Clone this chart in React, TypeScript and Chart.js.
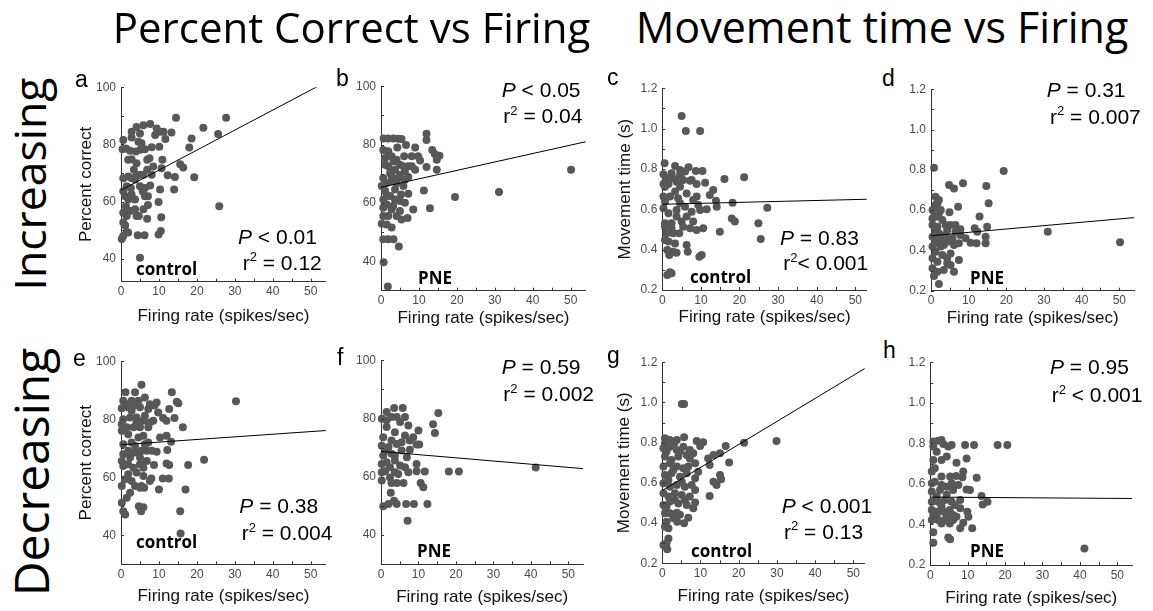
import React, { useEffect, useRef } from 'react';
import { Chart, registerables } from 'chart.js';
Chart.register(...registerables);

// ---------- DATA ----------
// a: Increasing, control, percent correct
const aX = [14.5,27.7,21.7,25.6,25.9,5.0,18.6,18.0,13.3,15.6,16.4,19.3,14.2,14.0,12.3,10.7,10.9,10.1,11.7,10.3,9.4,11.2,9.0,8.1,8.5,10.3,9.9,10.6,10.5,9.9,6.9,6.2,4.4,7.1,7.1,7.7,5.9,5.7,6.9,7.5,6.3,5.1,4.6,5.0,4.1,5.9,7.7,2.8,0.6,1.3,0.4,2.4,1.9,2.8,3.9,4.1,3.4,0.6,1.9,2.8,3.7,1.5,0.6,1.1,1.9,2.8,3.7,1.3,2.4,3.7,0.6,1.5,4.1,0.6,1.1,1.5,0.6,0.2,1.9,5.0,5.0,6.3,6.3,5.9,4.7,2.8,5.4,4.0,2.6,6.9,8.1];
const aY = [89.3,89.3,85.8,83.6,58.4,40.4,82.1,78.9,84.2,73.1,71.9,68.5,68.6,64.2,69.2,71.7,74.6,79.2,81.9,84.4,85.6,84.4,83.3,79.0,72.3,64.2,59.9,54.5,49.7,48.5,54.0,48.2,48.2,58.8,61.9,65.6,69.4,63.6,74.6,75.2,78.3,78.1,80.9,83.8,86.1,86.7,87.1,82.4,81.5,78.6,78.3,77.8,74.6,74.8,77.5,73.4,71.1,68.2,68.8,68.2,67.7,65.4,63.6,61.9,60.7,62.5,60.7,58.4,56.7,57.3,56.1,55.0,55.0,52.7,51.7,49.4,48.0,46.9,49.2,69.4,65.4,64.8,61.9,57.3,55.0,84.4,80.4,68.8,64.8,71.1,69.4];
const aLineX = [0, 54];
const aLineY = [64.0, 101.8];

// b: Increasing, PNE, percent correct
const bX = [12.0,12.0,0.7,1.9,3.3,4.6,5.4,4.3,0.6,1.9,1.1,2.8,4.1,5.0,6.1,8.1,9.0,10.3,12.0,13.5,14.2,15.4,14.7,14.7,7.2,6.3,5.0,3.7,2.4,0.6,1.5,0.2,2.8,4.1,5.9,7.2,5.3,7.2,11.3,19.5,31.1,50.1,8.5,7.0,5.0,4.1,2.8,1.5,0.6,2.4,12.9,0.2,1.5,2.8,0.6,1.9,3.3,4.7,0.7,1.8,3.7,1.1,3.3,1.9,6.6,8.1,5.0,3.7,0.6,1.1,2.8,4.6,6.3,1.5,3.2,6.3,0.6,1.9,5.4,5.9,9.0,9.8];
const bY = [83.7,81.6,82.1,82.1,82.1,82.0,81.9,79.0,78.2,77.7,75.4,76.0,74.8,73.1,76.0,76.0,79.0,74.6,72.3,78.2,76.8,76.2,74.8,71.4,72.6,70.9,69.7,71.4,70.3,68.6,66.9,65.8,67.5,66.9,65.8,68.9,62.9,63.2,64.3,62.1,63.8,71.4,57.8,54.9,57.3,55.6,57.8,59.5,61.2,62.4,58.2,52.9,52.7,51.6,47.6,47.6,47.6,45.1,39.7,31.4,64.6,64.1,74.2,72.6,79.9,72.6,60.7,61.2,58.4,73.1,69.2,68.6,68.0,62.4,59.0,60.1,55.6,55.6,54.4,72.6,71.4,76.0];
const bLineX = [0, 54];
const bLineY = [65.4, 81.0];

// c: Increasing, control, movement time
const cX = [5.0,6.1,9.8,0.6,3.3,4.6,6.8,8.7,10.4,0.3,2.4,0.3,1.6,3.7,5.4,7.2,8.9,11.1,16.1,21.2,13.2,12.3,13.9,14.1,18.2,27.2,11.5,9.3,7.6,5.9,4.1,2.0,0.7,0.3,0.7,0.7,2.4,2.4,5.0,6.3,8.0,8.9,10.6,4.4,0.7,1.6,3.3,6.3,1.3,2.8,3.7,1.8,6.6,9.6,10.2,14.9,18.0,18.8,24.9,25.5,1.3,2.4,2.0,8.9,6.3,4.6,3.3,8.0,9.8,0.3,0.7,5.4,7.2,3.7,0.9,2.8,4.6,5.9,1.6,3.7,4.6,2.8,1.1,7.6];
const cY = [1.063,0.988,0.988,0.828,0.815,0.795,0.808,0.790,0.790,0.774,0.779,0.726,0.726,0.737,0.745,0.742,0.726,0.732,0.750,0.759,0.696,0.671,0.643,0.613,0.633,0.608,0.600,0.621,0.588,0.613,0.655,0.663,0.638,0.605,0.531,0.514,0.531,0.506,0.539,0.564,0.539,0.498,0.506,0.481,0.448,0.440,0.431,0.423,0.398,0.390,0.385,0.374,0.390,0.365,0.374,0.489,0.555,0.539,0.531,0.453,0.274,0.283,0.288,0.663,0.679,0.712,0.688,0.646,0.597,0.663,0.712,0.514,0.506,0.564,0.754,0.754,0.770,0.787,0.580,0.597,0.630,0.481,0.481,0.745];
const cLineX = [0, 53];
const cLineY = [0.625, 0.650];

// d: Increasing, PNE, movement time
const dX = [0.8,4.8,6.1,8.5,14.7,19.3,15.3,7.2,12.9,4.9,31.0,50.2,7.4,2.1,6.1,1.2,1.7,0.8,2.6,0.4,1.7,3.0,0.4,1.7,3.9,5.2,6.5,0.4,2.1,3.9,6.5,7.8,9.2,10.5,11.6,12.3,14.5,14.9,12.1,14.5,7.4,6.1,1.7,3.4,1.2,3.0,5.2,0.4,1.7,4.3,0.4,1.7,3.4,0.8,5.2,5.7,4.3,3.0,1.2,7.8,1.2,2.6,0.4,4.3,2.1,1.2,2.1,4.3,0.4];
const dY = [0.811,0.725,0.708,0.733,0.720,0.794,0.634,0.617,0.568,0.589,0.493,0.440,0.352,0.233,0.294,0.667,0.634,0.592,0.601,0.559,0.568,0.551,0.526,0.518,0.526,0.526,0.526,0.468,0.485,0.477,0.493,0.477,0.460,0.438,0.510,0.493,0.468,0.518,0.435,0.435,0.435,0.427,0.435,0.427,0.394,0.377,0.385,0.361,0.344,0.336,0.311,0.294,0.303,0.273,0.327,0.460,0.443,0.452,0.452,0.505,0.493,0.419,0.419,0.361,0.584,0.625,0.650,0.501,0.601];
const dLineX = [0, 54];
const dLineY = [0.473, 0.563];

// e: Decreasing, control, percent correct
const eX = [5.4,1.2,3.7,13.4,14.7,15.1,30.3,12.7,14.1,11.1,16.3,12.0,13.2,12.2,21.9,17.7,12.0,12.7,8.7,11.0,12.6,8.0,10.0,17.0,15.6,15.7,4.7,5.3,5.9,0.6,1.1,0.2,1.5,2.4,3.7,5.4,6.1,0.2,1.1,1.9,0.6,1.9,3.3,5.0,5.9,6.8,0.6,1.9,3.7,5.4,6.8,8.1,9.4,0.6,2.8,4.6,7.2,0.2,1.5,3.3,5.0,7.2,8.5,7.6,0.6,2.4,4.1,6.3,0.2,1.9,3.3,5.0,7.2,8.8,9.4,2.8,4.6,0.6,1.5,2.8,5.9,4.1,1.9,5.9,3.7,6.3,2.4,5.0,0.2,4.1,5.9,2.8,7.6,5.0,10.3,9.8,12.0,0.2,7.6,6.3];
const eY = [91.9,89.3,89.3,89.3,86.0,85.5,86.2,83.5,80.4,80.4,77.2,74.3,72.2,69.4,66.0,64.2,64.7,64.2,64.2,59.6,59.6,59.6,55.8,55.8,48.3,40.6,50.0,48.3,49.7,48.3,47.2,51.2,52.9,54.7,57.0,57.0,56.4,57.0,59.3,61.0,63.9,64.5,63.3,64.5,63.3,65.6,67.9,69.1,68.5,69.1,69.1,69.1,68.8,71.4,72.0,73.7,72.0,76.0,77.2,77.2,77.2,77.2,79.5,78.9,80.0,80.6,80.6,81.2,83.8,84.1,84.7,84.1,83.5,84.7,85.8,86.4,86.4,86.4,85.2,82.9,79.5,78.9,74.8,74.3,70.8,71.4,66.8,66.8,65.6,61.6,60.4,58.7,58.7,56.4,73.7,82.3,79.5,78.3,85.2,87.5];
const eLineX = [0, 54];
const eLineY = [71.2, 76.1];

// f: Decreasing, PNE, percent correct
const fX = [3.5,5.8,15.3,1.5,0.2,2.8,6.4,13.9,14.4,10.0,7.3,5.1,1.5,3.7,6.4,8.6,9.5,10.2,7.7,0.6,0.2,2.0,4.2,5.5,2.8,0.6,0.2,1.5,3.7,5.1,6.4,9.5,9.5,11.7,18.1,20.8,41.3,0.2,2.4,2.8,4.2,6.0,10.6,11.3,2.6,3.5,0.6,2.0,4.2,6.7,8.8,12.4,7.1,1.1,3.7,1.5,4.2,2.8,5.5,1.1,3.7,6.9,2.4,4.6,7.3,0.2,7.7];
const fY = [83.6,83.6,81.9,82.2,79.9,80.5,80.5,78.0,75.0,75.9,77.6,78.8,77.1,75.3,74.2,73.6,71.1,71.1,69.3,73.6,70.7,70.2,71.3,69.0,67.9,67.3,64.4,65.0,65.6,63.9,63.3,64.4,61.9,61.8,61.8,61.8,63.2,58.7,59.8,57.9,57.9,57.9,57.9,56.4,54.5,51.8,49.9,50.7,50.7,50.7,50.7,50.7,44.9,61.9,61.6,79.4,80.5,72.5,71.9,69.0,67.3,66.7,63.3,61.0,61.6,61.6,72.5];
const fLineX = [0, 54];
const fLineY = [68.7, 62.8];

// g: Decreasing, control, movement time
const gX = [5.1,5.7,29.9,21.4,16.6,17.5,9.0,10.7,9.9,5.7,0.7,2.0,3.8,13.4,15.1,12.0,12.4,15.1,15.4,14.2,13.4,12.4,8.6,8.6,8.6,6.8,5.7,3.9,1.1,0.7,1.6,1.1,0.3,1.3,0.7,2.0,3.8,0.3,2.0,4.2,6.4,0.3,1.6,3.3,5.1,7.2,0.3,2.0,3.8,5.9,7.7,0.7,2.4,4.6,6.4,0.3,2.0,3.8,5.5,0.7,2.4,4.2,6.4,8.1,0.3,2.0,3.8,5.5,7.2,0.7,3.1,1.1,4.6,2.9,6.8,1.6,5.1,3.3,5.9,1.1,2.9,4.6,8.1,9.4,8.6,7.2,1.6];
const gY = [0.993,0.993,0.809,0.800,0.784,0.702,0.809,0.802,0.784,0.827,0.822,0.814,0.814,0.739,0.747,0.722,0.689,0.639,0.618,0.590,0.606,0.535,0.698,0.565,0.502,0.427,0.399,0.407,0.407,0.382,0.324,0.300,0.291,0.270,0.449,0.449,0.452,0.490,0.507,0.498,0.490,0.548,0.532,0.548,0.540,0.532,0.598,0.581,0.590,0.581,0.590,0.639,0.648,0.631,0.648,0.681,0.698,0.681,0.673,0.731,0.714,0.731,0.739,0.747,0.772,0.780,0.764,0.780,0.764,0.797,0.797,0.756,0.756,0.664,0.681,0.615,0.606,0.515,0.515,0.482,0.424,0.441,0.474,0.656,0.623,0.722,0.374];
const gLineX = [0, 53];
const gLineY = [0.562, 1.169];

// h: Decreasing, PNE, movement time
const hX = [0.8,2.1,3.5,5.7,9.3,11.7,18.0,20.6,0.8,3.0,4.4,7.0,9.7,0.4,3.0,1.2,5.3,6.9,8.6,12.4,7.5,0.4,2.6,4.4,6.1,9.7,10.6,13.7,15.3,14.0,0.4,2.1,3.9,5.7,8.0,0.4,1.7,3.5,5.2,8.0,9.9,0.4,2.1,3.9,6.1,10.2,8.8,1.7,4.4,8.0,11.2,0.8,4.8,5.3,0.8,41.2,3.0,6.1,1.7,4.4,6.6,3.0,0.8,5.2,7.0,3.0,0.4,5.7,8.8,1.2,1.7,4.8,0.8,3.0];
const hY = [0.809,0.813,0.797,0.792,0.792,0.792,0.792,0.792,0.718,0.718,0.735,0.705,0.726,0.661,0.636,0.611,0.636,0.639,0.633,0.631,0.595,0.562,0.570,0.586,0.570,0.573,0.570,0.540,0.512,0.499,0.512,0.512,0.521,0.512,0.521,0.471,0.463,0.463,0.471,0.480,0.463,0.422,0.422,0.422,0.422,0.438,0.409,0.438,0.438,0.381,0.381,0.361,0.336,0.327,0.310,0.282,0.405,0.447,0.538,0.546,0.496,0.488,0.447,0.405,0.438,0.595,0.603,0.603,0.661,0.677,0.759,0.784,0.784,0.817];
const hLineX = [0, 54];
const hLineY = [0.535, 0.528];

// ticks
const firingLabels = [0, 10, 20, 30, 40, 50];
const firingMarks = [0, 5, 10, 15, 20, 25, 30, 35, 40, 45, 50];
const pctLabels = [40, 60, 80, 100];
const pctMarks = [40, 50, 60, 70, 80, 90, 100];
const mtLabels = [0.2, 0.4, 0.6, 0.8, 1.0, 1.2];
const mtMarks = [0.2, 0.3, 0.4, 0.5, 0.6, 0.7, 0.8, 0.9, 1.0, 1.1, 1.2];

const panelLetters = ['a', 'b', 'c', 'd', 'e', 'f', 'g', 'h'];
const groupNames = ['control', 'PNE', 'control', 'PNE', 'control', 'PNE', 'control', 'PNE'];
const pTexts = ['< 0.01', '< 0.05', '= 0.83', '= 0.31', '= 0.38', '= 0.59', '< 0.001', '= 0.95'];
const r2Texts = [' = 0.12', ' = 0.04', '< 0.001', ' = 0.007', ' = 0.004', ' = 0.002', ' = 0.13', ' < 0.001'];

// ---------- LAYOUT ----------
type Cfg = {
  xs: number[]; ys: number[]; lx: number[]; ly: number[];
  ox: number; x50: number; top: number; bottom: number; xMax: number;
  yMin: number; yMax: number; yLabels: number[]; yMarks: number[]; digits: number;
  yTitle?: string; yTitleCX?: number; xTitleCY: number;
  letter: [number, number]; group: [number, number]; p: [number, number]; r2: [number, number];
};

const PCT = 'Percent correct';
const MT = 'Movement time (s)';

const panels: Cfg[] = [
  { xs: aX, ys: aY, lx: aLineX, ly: aLineY, ox: 121, x50: 310.7, top: 86.7, bottom: 281.7, xMax: 54, yMin: 32, yMax: 100, yLabels: pctLabels, yMarks: pctMarks, digits: 0, yTitle: PCT, yTitleCX: 85.7, xTitleCY: 317.2, letter: [75, 87], group: [136, 275], p: [238, 243.3], r2: [242.7, 269.3] },
  { xs: bX, ys: bY, lx: bLineX, ly: bLineY, ox: 381, x50: 570.7, top: 86, bottom: 290.7, xMax: 54, yMin: 30, yMax: 100, yLabels: pctLabels, yMarks: pctMarks, digits: 0, xTitleCY: 318.8, letter: [336, 86.7], group: [418, 284], p: [501.7, 96.7], r2: [503.3, 122.7] },
  { xs: cX, ys: cY, lx: cLineX, ly: cLineY, ox: 662.3, x50: 855.3, top: 88.3, bottom: 290, xMax: 53, yMin: 0.2, yMax: 1.2, yLabels: mtLabels, yMarks: mtMarks, digits: 1, yTitle: MT, yTitleCX: 625.3, xTitleCY: 317.8, letter: [607, 85], group: [690, 282.7], p: [780, 245], r2: [783.3, 270] },
  { xs: dX, ys: dY, lx: dLineX, ly: dLineY, ox: 931, x50: 1119.3, top: 89.3, bottom: 290.7, xMax: 54, yMin: 0.2, yMax: 1.2, yLabels: mtLabels, yMarks: mtMarks, digits: 1, xTitleCY: 318.8, letter: [882, 86], group: [970, 284], p: [1046.7, 96.7], r2: [1050, 123.3] },
  { xs: eX, ys: eY, lx: eLineX, ly: eLineY, ox: 121, x50: 310.7, top: 360.7, bottom: 564.3, xMax: 54, yMin: 30, yMax: 100, yLabels: pctLabels, yMarks: pctMarks, digits: 0, yTitle: PCT, yTitleCX: 85.8, xTitleCY: 596.7, letter: [73, 366.7], group: [136, 547.7], p: [239.3, 512.7], r2: [241.7, 540] },
  { xs: fX, ys: fY, lx: fLineX, ly: fLineY, ox: 381, x50: 568.3, top: 360, bottom: 564.3, xMax: 54, yMin: 30, yMax: 100, yLabels: pctLabels, yMarks: pctMarks, digits: 0, xTitleCY: 598.3, letter: [337, 365], group: [417, 557], p: [501.7, 373.3], r2: [503.3, 401] },
  { xs: gX, ys: gY, lx: gLineX, ly: gLineY, ox: 662.3, x50: 853.3, top: 362.3, bottom: 563.3, xMax: 53, yMin: 0.2, yMax: 1.2, yLabels: mtLabels, yMarks: mtMarks, digits: 1, yTitle: MT, yTitleCX: 623.8, xTitleCY: 596.7, letter: [607, 363.3], group: [691, 557], p: [781.7, 512.7], r2: [784, 538.3] },
  { xs: hX, ys: hY, lx: hLineX, ly: hLineY, ox: 930.3, x50: 1117.3, top: 362.3, bottom: 565, xMax: 54, yMin: 0.2, yMax: 1.2, yLabels: mtLabels, yMarks: mtMarks, digits: 1, xTitleCY: 599.3, letter: [883, 358.3], group: [970, 557], p: [1050, 373.3], r2: [1051.7, 401.7] },
];

const SANS = '"Liberation Sans", Arial, sans-serif';
const OPEN = '"Open Sans", "Noto Sans", sans-serif';
const DOT = '#585858';
const TICKCOL = '#4a4a4a';

const tickPlugin = {
  id: 'inTicks',
  afterDraw(chart: any, _args: any, opts: any) {
    const { ctx, chartArea, scales } = chart;
    const x = scales.x, y = scales.y;
    ctx.save();
    ctx.strokeStyle = '#333';
    ctx.lineWidth = 1;
    ctx.beginPath();
    for (const v of opts.xMarks) {
      const px = Math.round(x.getPixelForValue(v)) + 0.5;
      ctx.moveTo(px, chartArea.bottom);
      ctx.lineTo(px, chartArea.bottom - 3);
    }
    for (const v of opts.yMarks) {
      const py = Math.round(y.getPixelForValue(v)) + 0.5;
      ctx.moveTo(chartArea.left, py);
      ctx.lineTo(chartArea.left + 3, py);
    }
    ctx.stroke();
    ctx.restore();
  },
};

function Panel({ c }: { c: Cfg }) {
  const ref = useRef<HTMLCanvasElement>(null);
  const ppu = (c.x50 - c.ox) / 50;
  const plotW = ppu * c.xMax;
  const canvasLeft = Math.round(c.yTitle ? (c.yTitleCX as number) - 10.2 : c.ox - 34);
  const yW = c.ox - canvasLeft;
  const canvasTop = Math.round(c.top - 12);
  const padTop = c.top - canvasTop;
  const plotH = c.bottom - c.top;
  const W = Math.ceil(yW + plotW + 8);
  const padR = W - yW - plotW;
  const H = Math.round(padTop + plotH + (c.xTitleCY - c.bottom) + 10.2);
  const xH = H - padTop - plotH;

  useEffect(() => {
    const canvas = ref.current as HTMLCanvasElement;
    const chart = new Chart(canvas, {
      type: 'scatter',
      data: {
        datasets: [
          {
            data: c.lx.map((v, i) => ({ x: v, y: c.ly[i] })),
            showLine: true,
            borderColor: '#000',
            borderWidth: 1,
            pointRadius: 0,
            order: 0,
            clip: 0,
          } as any,
          {
            data: c.xs.map((v, i) => ({ x: v, y: c.ys[i] })),
            backgroundColor: DOT,
            borderWidth: 0,
            pointRadius: 4,
            order: 1,
            clip: false,
          } as any,
        ],
      },
      options: {
        responsive: false,
        animation: false,
        devicePixelRatio: 1,
        layout: { padding: { top: padTop, left: 0, right: padR, bottom: 0 } },
        plugins: {
          legend: { display: false },
          tooltip: { enabled: false },
          inTicks: { xMarks: firingMarks, yMarks: c.yMarks },
        } as any,
        scales: {
          x: {
            type: 'linear',
            min: 0,
            max: c.xMax,
            grid: { display: false, drawTicks: false },
            border: { display: true, color: '#333', width: 1 },
            afterBuildTicks: (s: any) => { s.ticks = firingLabels.map((v) => ({ value: v })); },
            afterFit: (s: any) => { s.height = xH; },
            ticks: {
              color: TICKCOL,
              padding: 3,
              maxRotation: 0,
              font: { family: SANS, size: 12 },
              callback: (v: any) => String(v),
            },
            title: {
              display: true,
              text: 'Firing rate (spikes/sec)',
              color: '#111',
              padding: 0,
              font: { family: SANS, size: 17 },
            },
          },
          y: {
            type: 'linear',
            min: c.yMin,
            max: c.yMax,
            grid: { display: false, drawTicks: false },
            border: { display: true, color: '#333', width: 1 },
            afterBuildTicks: (s: any) => { s.ticks = c.yLabels.map((v) => ({ value: v })); },
            afterFit: (s: any) => { s.width = yW; },
            ticks: {
              color: TICKCOL,
              padding: 5,
              font: { family: SANS, size: 12 },
              callback: (v: any) => Number(v).toFixed(c.digits),
            },
            title: {
              display: !!c.yTitle,
              text: c.yTitle || '',
              color: '#111',
              padding: 0,
              font: { family: SANS, size: 17 },
            },
          },
        },
      },
      plugins: [tickPlugin as any],
    });
    return () => chart.destroy();
  }, []);

  return (
    <canvas
      ref={ref}
      width={W}
      height={H}
      style={{ position: 'absolute', left: canvasLeft, top: canvasTop, width: W, height: H }}
    />
  );
}

// text placed by baseline; k = baseline offset (em) for line-height 1
function T({ x, y, size, family, k, weight, children }: any) {
  return (
    <div
      style={{
        position: 'absolute',
        left: x,
        top: y - size * k,
        fontSize: size,
        lineHeight: 1,
        fontFamily: family,
        fontWeight: weight || 'normal',
        whiteSpace: 'nowrap',
        color: '#000',
      }}
    >
      {children}
    </div>
  );
}

const KS = 0.8465; // Liberation Sans
const KO = 0.888; // Open Sans

export default function App() {
  return (
    <div style={{ position: 'fixed', left: 0, top: 0, width: 1153, height: 611, background: '#fff', overflow: 'hidden' }}>
      {panels.map((c, i) => (
        <Panel key={i} c={c} />
      ))}
      {panels.map((c, i) => (
        <React.Fragment key={'t' + i}>
          <T x={c.letter[0]} y={c.letter[1]} size={23} family={SANS} k={KS}>{panelLetters[i]}</T>
          <T x={c.group[0]} y={c.group[1]} size={17} family={OPEN} k={KO} weight="bold">{groupNames[i]}</T>
          <T x={c.p[0]} y={c.p[1]} size={21} family={SANS} k={KS}><i>P</i>{' ' + pTexts[i]}</T>
          <T x={c.r2[0]} y={c.r2[1]} size={21} family={SANS} k={KS}>
            r<span style={{ fontSize: '0.62em', position: 'relative', top: '-0.62em' }}>2</span>{r2Texts[i]}
          </T>
        </React.Fragment>
      ))}
      <div style={{ position: 'absolute', left: 351.5, top: 43 - 42 * KO, transform: 'translateX(-50%)', fontFamily: OPEN, fontSize: 42, lineHeight: 1, whiteSpace: 'nowrap' }}>
        Percent Correct vs Firing
      </div>
      <div style={{ position: 'absolute', left: 882, top: 43 - 43 * KO, transform: 'translateX(-50%)', fontFamily: OPEN, fontSize: 43, lineHeight: 1, whiteSpace: 'nowrap' }}>
        Movement time vs Firing
      </div>
      <div style={{ position: 'absolute', left: 29, top: 184, transform: 'translate(-50%,-50%) rotate(-90deg)', fontFamily: OPEN, fontSize: 44.5, lineHeight: 1, whiteSpace: 'nowrap' }}>
        Increasing
      </div>
      <div style={{ position: 'absolute', left: 31, top: 472, transform: 'translate(-50%,-50%) rotate(-90deg)', fontFamily: OPEN, fontSize: 48, lineHeight: 1, whiteSpace: 'nowrap' }}>
        Decreasing
      </div>
    </div>
  );
}
